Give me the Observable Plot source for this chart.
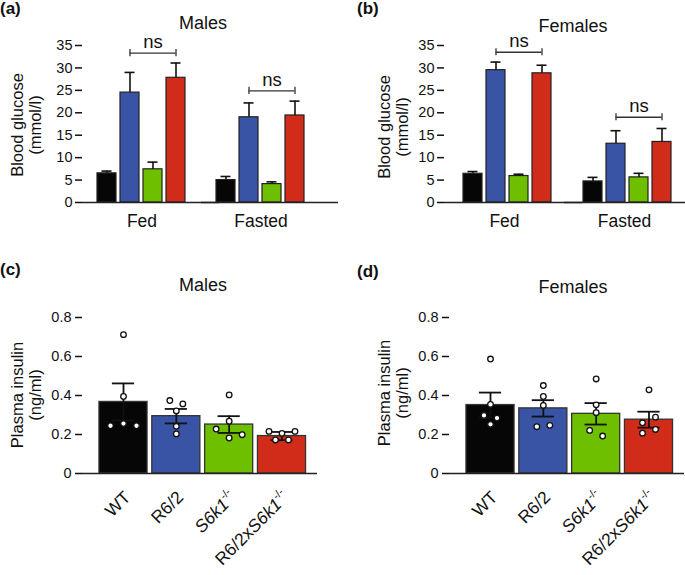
<!DOCTYPE html>
<html><head><meta charset="utf-8">
<script src="https://cdn.jsdelivr.net/npm/d3@7"></script>
<script src="https://cdn.jsdelivr.net/npm/@observablehq/plot@0.6"></script>
<style>
body{margin:0;background:#fff;font-family:"Liberation Sans",Arial,sans-serif;color:#111}
#root{position:relative;width:685px;height:575px;overflow:hidden;background:#fff}
.plab{position:absolute;font-weight:bold;font-size:17px;line-height:1}
.title{position:absolute;font-size:18px;line-height:1;white-space:nowrap;transform:translateX(-50%)}
.ylab{position:absolute;font-size:16.5px;line-height:18px;text-align:center;white-space:nowrap;transform:translate(-50%,-50%) rotate(-90deg)}
svg{position:absolute}
</style></head><body><div id="root"></div>
<script>
// ---------- data ----------
const genotypes = ["WT", "R6/2", "S6k1-/-", "R6/2xS6k1-/-"];
const conditions = ["Fed", "Fasted"];
const colors = ["#060606", "#3953a5", "#6dbf00", "#d02c19"];

// Blood glucose (mmol/l): bar means and top of error bar
const glucoseTicks = [0, 5, 10, 15, 20, 25, 30, 35];
const maleFed = [6.5, 24.5, 7.4, 27.8];
const maleFedErr = [7.0, 29.0, 9.0, 31.1];
const maleFasted = [5.0, 19.0, 4.1, 19.4];
const maleFastedErr = [5.8, 22.2, 4.6, 22.6];
const maleNs = [33.3, 24.9];
const femaleFed = [6.4, 29.5, 5.9, 28.8];
const femaleFedErr = [6.9, 31.3, 6.3, 30.6];
const femaleFasted = [4.7, 13.1, 5.6, 13.5];
const femaleFastedErr = [5.6, 16.0, 6.5, 16.5];
const femaleNs = [33.5, 19.0];

// Plasma insulin (ng/ml)
const insulinTicks = [0, 0.2, 0.4, 0.6, 0.8];
const maleInsulinMean = [0.367, 0.294, 0.251, 0.192];
const maleInsulinSem = [0.095, 0.037, 0.043, 0.021];
const maleInsulinPoints = [
  [0.712, 0.395, 0.245, 0.256, 0.245],
  [0.374, 0.357, 0.321, 0.242, 0.203],
  [0.403, 0.268, 0.228, 0.182, 0.199],
  [0.216, 0.206, 0.216, 0.172, 0.172]
];
const femaleInsulinMean = [0.351, 0.334, 0.306, 0.276];
const femaleInsulinSem = [0.064, 0.042, 0.055, 0.041];
const femaleInsulinPoints = [
  [0.587, 0.354, 0.298, 0.284, 0.252],
  [0.451, 0.395, 0.349, 0.240, 0.247],
  [0.485, 0.352, 0.312, 0.221, 0.192],
  [0.429, 0.260, 0.289, 0.207, 0.226]
];

// ---------- helpers ----------
const root = document.getElementById("root");
const FONT = "Liberation Sans, Arial, sans-serif";
function put(el, left, top) { el.style.left = left + "px"; el.style.top = top + "px"; root.appendChild(el); }
function div(cls, html, left, top) { const d = document.createElement("div"); d.className = cls; d.innerHTML = html; put(d, left, top); return d; }

function richLabels(svg) {
  d3.select(svg).selectAll("text").each(function () {
    const t = this.textContent;
    const m = t.match(/^(.*?)(S6k1)(-\/-)$/);
    if (!m) return;
    const s = d3.select(this); s.text("");
    if (m[1]) s.append("tspan").text(m[1]);
    s.append("tspan").attr("font-style", "italic").text(m[2]);
    s.append("tspan").attr("font-size", "0.62em").attr("dy", "-0.75em").text(m[3]);
  });
}
function axisFonts(svg, fx) {
  const s = d3.select(svg);
  s.selectAll('g[aria-label="y-axis tick label"]').attr("font-size", 14.5);
  if (fx) s.selectAll('g[aria-label="fx-axis tick label"]').attr("font-size", 17.5);
}

function glucosePanel(fed, fedErr, fasted, fastedErr, ns, facetW, xAlign) {
  const rows = [];
  conditions.forEach((c, ci) => genotypes.forEach((g, gi) => {
    rows.push({cond: c, geno: g,
      mean: ci === 0 ? fed[gi] : fasted[gi],
      up: ci === 0 ? fedErr[gi] : fastedErr[gi]});
  }));
  const brackets = conditions.map((c, ci) => ({cond: c, from: genotypes[1], mid: genotypes[2], to: genotypes[3], y: ns[ci]}));
  const ends = brackets.flatMap(b => [{cond: b.cond, geno: b.from, y: b.y}, {cond: b.cond, geno: b.to, y: b.y}]);
  const ml = 82, mr = 22;
  const step = 23, pin = 4 / 23;
  const pout = (facetW / step - (4 - pin)) / 2;
  const svg = Plot.plot({
    width: ml + 2 * facetW + mr, height: 237,
    marginLeft: ml, marginRight: mr, marginTop: 45, marginBottom: 35,
    style: {fontFamily: FONT, fontSize: "14.5px", color: "#111", background: "transparent", overflow: "visible"},
    fx: {domain: conditions, padding: 0, label: null},
    x: {domain: genotypes, paddingInner: pin, paddingOuter: pout, align: xAlign, axis: null},
    y: {domain: [0, 35], label: null},
    color: {domain: genotypes, range: colors},
    marks: [
      Plot.barY(rows, {fx: "cond", x: "geno", y: "mean", fill: "geno", stroke: "#222", strokeWidth: 1.2}),
      Plot.ruleX(rows, {fx: "cond", x: "geno", y1: "mean", y2: "up", stroke: "#111", strokeWidth: 1.6}),
      Plot.tickY(rows, {fx: "cond", x: "geno", y: "up", inset: 4.5, stroke: "#111", strokeWidth: 1.6}),
      Plot.ruleY([0], {insetRight: -(mr - 4), stroke: "#222", strokeWidth: 1.5}),
      Plot.ruleY(brackets, {fx: "cond", x1: "from", x2: "to", y: "y", inset: 9.5, stroke: "#333", strokeWidth: 1.3}),
      Plot.ruleX(ends, {fx: "cond", x: "geno", y1: d => d.y - 0.8, y2: d => d.y + 0.8, stroke: "#333", strokeWidth: 1.3}),
      Plot.text(brackets, {fx: "cond", x: "mid", y: "y", text: () => "ns", dy: -5, lineAnchor: "bottom", fontSize: 18.5}),
      Plot.axisY(glucoseTicks, {tickSize: 7, tickPadding: 3, line: true, label: null, strokeWidth: 1.5, fontSize: 14.5}),
      Plot.axisFx({anchor: "bottom", tickSize: 0, tickPadding: 12, label: null, fontSize: 17.5})
    ]
  });
  axisFonts(svg, true);
  return svg;
}

function insulinPanel(mean, sem, points) {
  const frameH = 156, pxPerUnit = frameH / 0.8, pxPerX = 52.83;
  function spread(vals) {
    const order = vals.map((v, k) => k).sort((a, b) => vals[b] - vals[a]);
    const off = vals.map(() => 0);
    let cl = [order[0]];
    const flush = () => { cl.sort((a, b) => a - b).forEach((k, j) => off[k] = (j - (cl.length - 1) / 2) * 13); };
    for (let j = 1; j < order.length; j++) {
      if ((vals[order[j - 1]] - vals[order[j]]) * pxPerUnit < 6) cl.push(order[j]);
      else { flush(); cl = [order[j]]; }
    }
    flush();
    return off;
  }
  const bars = genotypes.map((g, i) => ({i, geno: g, mean: mean[i], lo: mean[i] - sem[i], hi: mean[i] + sem[i]}));
  const caps = bars.flatMap(b => [{i: b.i, y: b.hi}, {i: b.i, y: b.lo}]);
  const pts = points.flatMap((vals, i) => { const off = spread(vals); return vals.map((v, k) => ({i, v, off: off[k]})); });
  const svg = Plot.plot({
    width: 337, height: 315,
    marginLeft: 82, marginRight: 20, marginTop: 57, marginBottom: 315 - 57 - frameH,
    style: {fontFamily: FONT, fontSize: "14.5px", color: "#111", background: "transparent", overflow: "visible"},
    x: {domain: [-0.776, 3.672], axis: null},
    y: {domain: [0, 0.8], label: null},
    color: {domain: genotypes, range: colors},
    marks: [
      Plot.rect(bars, {x1: d => d.i - 0.455, x2: d => d.i + 0.455, y1: 0, y2: "mean", fill: "geno", stroke: "#333", strokeWidth: 1.3}),
      Plot.ruleY([0], {stroke: "#222", strokeWidth: 1.5}),
      Plot.ruleX(bars, {x: "i", y1: "lo", y2: "hi", stroke: "#111", strokeWidth: 1.8}),
      Plot.ruleY(caps, {x1: d => d.i - 0.21, x2: d => d.i + 0.21, y: "y", stroke: "#111", strokeWidth: 1.8}),
      Plot.dot(pts, {x: d => d.i + d.off / pxPerX, y: "v", r: 2.8, fill: "white", stroke: "#111", strokeWidth: 1.3}),
      Plot.text(bars, {x: "i", y: 0, text: "geno", rotate: -45, textAnchor: "end", lineAnchor: "middle", dx: 4, dy: 21, fontSize: 17.5}),
      Plot.axisY(insulinTicks, {tickSize: 7, tickPadding: 4, line: true, label: null, strokeWidth: 1.5, fontSize: 14.5, tickFormat: d => String(d)})
    ]
  });
  axisFonts(svg, false);
  richLabels(svg);
  return svg;
}

// ---------- panels ----------
put(glucosePanel(maleFed, maleFedErr, maleFasted, maleFastedErr, maleNs, 119, 0.48), 0, 0);
put(glucosePanel(femaleFed, femaleFedErr, femaleFasted, femaleFastedErr, femaleNs, 120, 0.59), 362, 0);
put(insulinPanel(maleInsulinMean, maleInsulinSem, maleInsulinPoints), 0, 260);
put(insulinPanel(femaleInsulinMean, femaleInsulinSem, femaleInsulinPoints), 367, 260);

// ---------- text ----------
div("plab", "(a)", 0, 0);
div("plab", "(b)", 357, 0);
div("plab", "(c)", 0, 260.5);
div("plab", "(d)", 357, 262.5);
div("title", "Males", 203, 14);
div("title", "Females", 573, 17);
div("title", "Males", 203, 275.5);
div("title", "Females", 573, 278);
div("ylab", "Blood glucose<br>(mmol/l)", 26, 125);
div("ylab", "Blood glucose<br>(mmol/l)", 392.5, 127);
div("ylab", "Plasma insulin<br>(ng/ml)", 25.5, 395);
div("ylab", "Plasma insulin<br>(ng/ml)", 393, 393);
</script></body></html>
